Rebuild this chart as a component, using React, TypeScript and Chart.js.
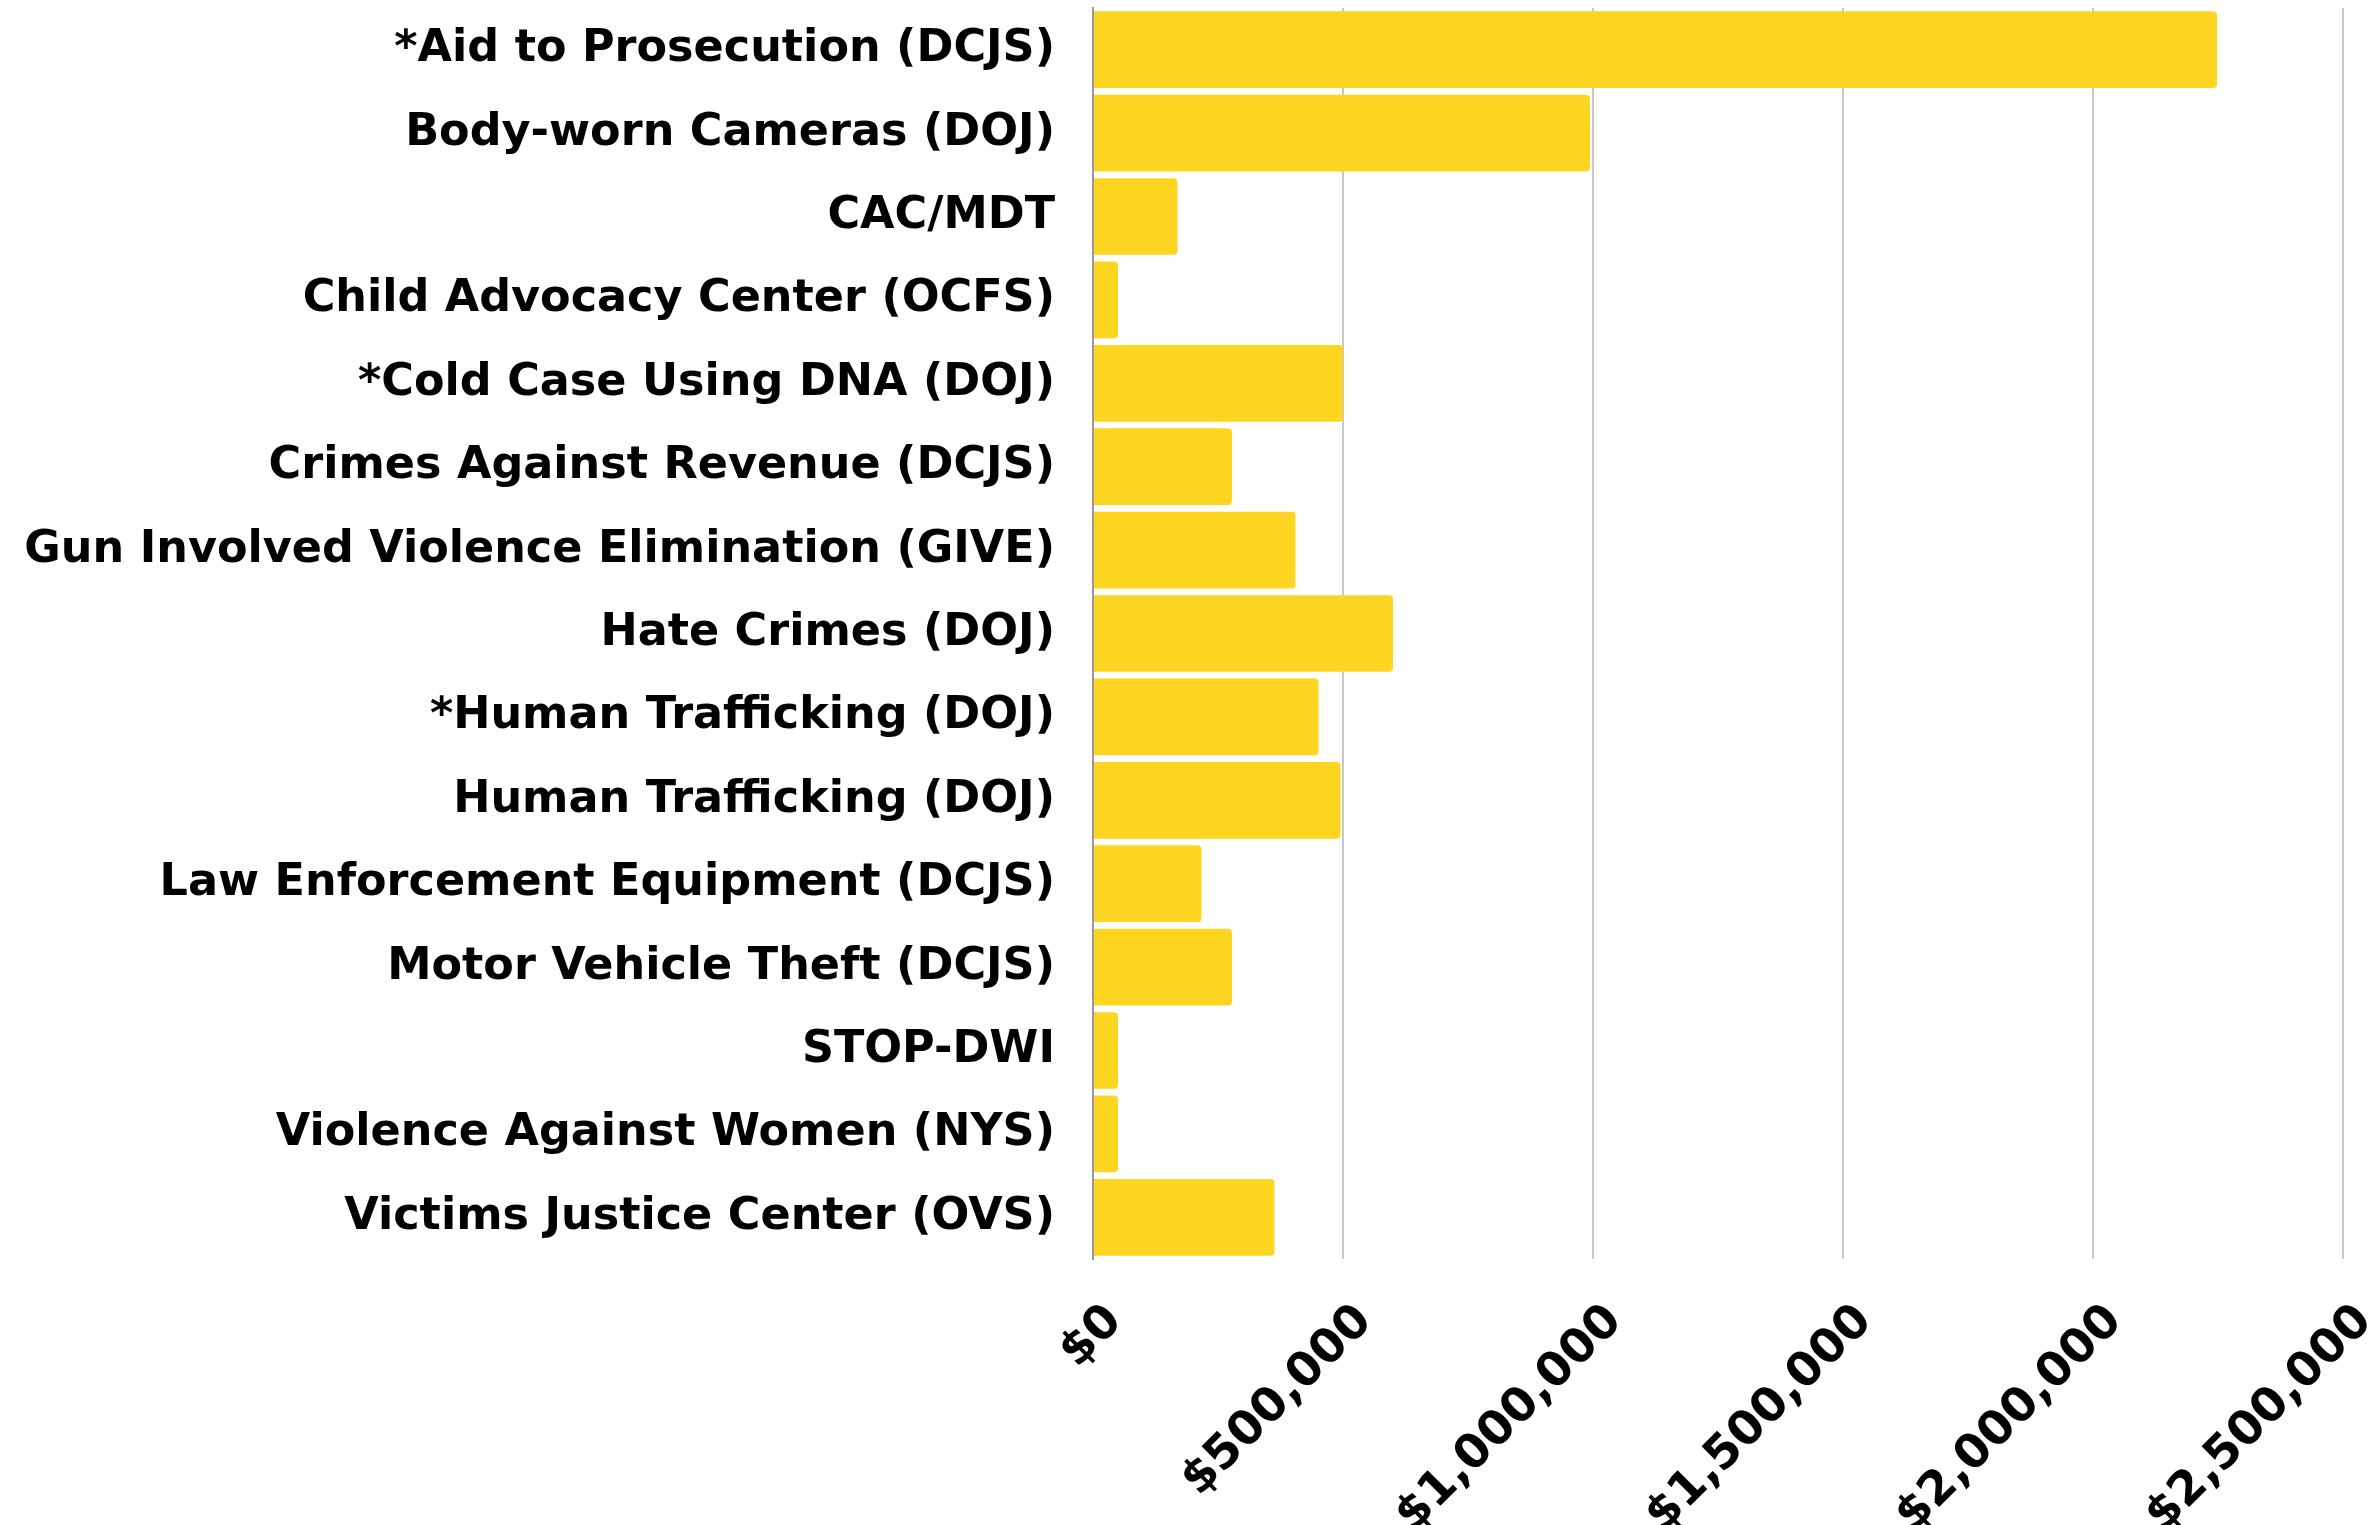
import React, { useEffect, useRef } from 'react';
import { Chart, registerables } from 'chart.js';
Chart.register(...registerables);

const categories = [
  '*Aid to Prosecution (DCJS)',
  'Body-worn Cameras (DOJ)',
  'CAC/MDT',
  'Child Advocacy Center (OCFS)',
  '*Cold Case Using DNA (DOJ)',
  'Crimes Against Revenue (DCJS)',
  'Gun Involved Violence Elimination (GIVE)',
  'Hate Crimes (DOJ)',
  '*Human Trafficking (DOJ)',
  'Human Trafficking (DOJ)',
  'Law Enforcement Equipment (DCJS)',
  'Motor Vehicle Theft (DCJS)',
  'STOP-DWI',
  'Violence Against Women (NYS)',
  'Victims Justice Center (OVS)',
];

const amounts = [
  2248000, 994000, 169000, 50000, 500000, 278000, 405000, 600000,
  451000, 495000, 217000, 278000, 50000, 50000, 363000,
];

const axisMin = 0;
const axisMax = 2500000;
const axisStep = 500000;

const FONT = '"DejaVu Sans", sans-serif';
const BAR_COLOR = '#FED521';

export default function App() {
  const ref = useRef<HTMLCanvasElement | null>(null);
  useEffect(() => {
    if (!ref.current) return;
    const chart = new Chart(ref.current, {
      type: 'bar',
      data: {
        labels: categories,
        datasets: [
          {
            data: amounts,
            backgroundColor: BAR_COLOR,
            borderWidth: 0,
            borderRadius: 4,
            borderSkipped: 'start',
            barPercentage: 0.92,
            categoryPercentage: 1,
          },
        ],
      },
      options: {
        indexAxis: 'y',
        responsive: false,
        animation: false,
        layout: { padding: { top: 8, right: 28, left: 0, bottom: 0 } },
        plugins: { legend: { display: false }, tooltip: { enabled: false } },
        scales: {
          x: {
            min: axisMin,
            max: axisMax,
            grid: { color: '#c8c8c8', lineWidth: 2, drawTicks: false },
            border: { display: false },
            ticks: {
              stepSize: axisStep,
              maxRotation: 45,
              minRotation: 45,
              padding: 35,
              labelOffset: 22,
              color: '#000',
              font: { family: FONT, size: 47, weight: 'bold' },
              callback: (v: any) => '$' + Number(v).toLocaleString('en-US'),
            },
            afterFit: (s: any) => {
              s.height = 266;
              s.paddingLeft = 0;
              s.paddingRight = 0;
            },
          },
          y: {
            grid: { display: false, drawTicks: false },
            border: { display: true, color: '#999', width: 2 },
            ticks: {
              padding: 38,
              color: '#000',
              font: { family: FONT, size: 44.5, weight: 'bold' },
            },
            afterFit: (s: any) => {
              s.width = 1093;
              s.paddingTop = 0;
              s.paddingBottom = 0;
            },
          },
        },
      },
    });
    return () => chart.destroy();
  }, []);
  return (
    <div style={{ position: 'absolute', left: 0, top: 0, width: 2371, height: 1525, background: '#fff' }}>
      <canvas ref={ref} width={2371} height={1525} />
    </div>
  );
}
